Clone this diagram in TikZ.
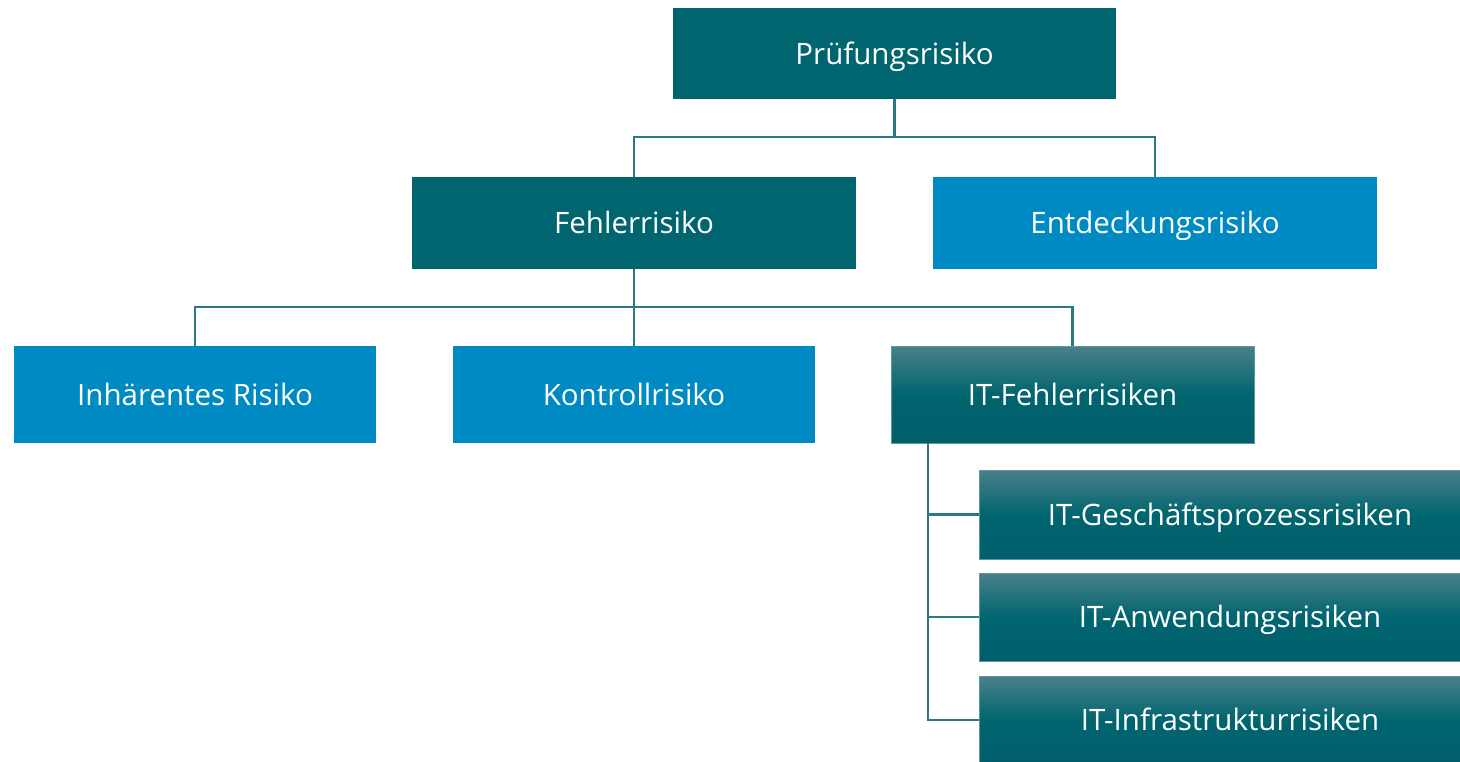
\documentclass[tikz,border=0pt]{standalone}
\usepackage{fontspec}
\setmainfont{Open Sans}
\definecolor{darkteal}{HTML}{00656F}
\definecolor{bluebox}{HTML}{008AC4}
\definecolor{conncol}{HTML}{2B7A83}
\definecolor{gradtop}{HTML}{4A8089}
\definecolor{gradbot}{HTML}{005E6A}
\definecolor{gradedge}{HTML}{5D979F}
\tikzset{
  box/.style={rectangle, inner sep=0pt, text=white, font=\fontsize{29.5}{34}\selectfont, text height=21pt, text depth=0pt},
  darkbox/.style={box, fill=darkteal},
  bluebx/.style={box, fill=bluebox},
  gradbox/.style={box, top color=gradtop, bottom color=gradbot, middle color=darkteal, draw=gradedge, line width=0.8pt},
  conn/.style={draw=conncol, line width=2.4pt}
}
\begin{document}
\begin{tikzpicture}[x=1pt,y=-1pt]
\useasboundingbox (0,0) rectangle (1460,761);
\node[darkbox, minimum width=443pt, minimum height=91pt] (pr) at (894.5,53.5) {Prüfungsrisiko};
\node[darkbox, minimum width=444pt, minimum height=92pt] (fe) at (634,223) {Fehlerrisiko};
\node[bluebx, minimum width=444pt, minimum height=92pt] (en) at (1155,223) {Entdeckungsrisiko};
\node[bluebx, minimum width=362pt, minimum height=97pt] (ih) at (195,394.5) {Inhärentes Risiko};
\node[bluebx, minimum width=362pt, minimum height=97pt] (ko) at (634,394.5) {Kontrollrisiko};
\node[gradbox, minimum width=363pt, minimum height=97pt] (itf) at (1072.5,394.5) {IT-Fehlerrisiken};
\node[gradbox, minimum width=502pt, minimum height=89pt] (itg) at (1230,514.5) {IT-Geschäftsprozessrisiken};
\node[gradbox, minimum width=502pt, minimum height=88pt] (ita) at (1230,617) {IT-Anwendungsrisiken};
\node[gradbox, minimum width=502pt, minimum height=88pt] (iti) at (1230,720) {IT-Infrastrukturrisiken};
\coordinate (h1) at (0,137);
\coordinate (h2) at (0,307);
\coordinate (v1) at (928,0);
\draw[conn] (pr.south) -- (pr.south |- h1) -| (fe.north);
\draw[conn] (pr.south |- h1) -| (en.north);
\draw[conn] (fe.south) -- (fe.south |- h2) -| (ih.north);
\draw[conn] (fe.south |- h2) -- (ko.north);
\draw[conn] (fe.south |- h2) -| (itf.north);
\draw[conn] (v1 |- itf.south) |- (itg.west);
\draw[conn] (v1 |- itf.south) |- (ita.west);
\draw[conn] (v1 |- itf.south) |- (iti.west);
\end{tikzpicture}
\end{document}
